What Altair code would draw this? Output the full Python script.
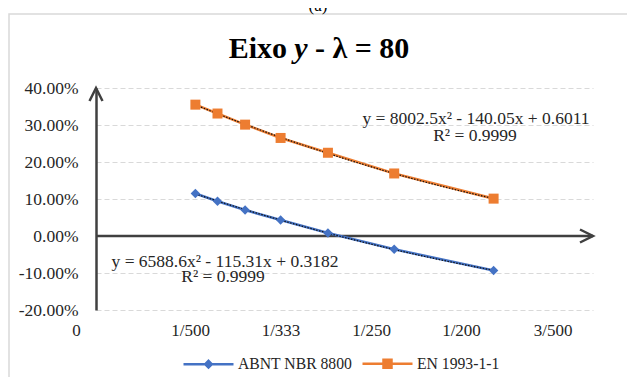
import altair as alt
import pandas as pd

# ---- data ----
denominators = [500, 450, 400, 350, 300, 250, 200]          # x = 1/den
abnt_values = [0.115, 0.094, 0.070, 0.043, 0.008, -0.036, -0.093]
en_values = [0.355, 0.331, 0.301, 0.265, 0.225, 0.169, 0.101]
series_names = ["ABNT NBR 8800", "EN 1993-1-1"]
series_colors = ["#4472C4", "#ED7D31"]

x_tick_values = [0.001, 0.001946, 0.002856, 0.003767, 0.004672, 0.005593]
x_tick_labels = ["0", "1/500", "1/333", "1/250", "1/200", "3/500"]
y_tick_values = [-0.2, -0.1, 0.0, 0.1, 0.2, 0.3, 0.4]

ann_text = ["y = 8002.5x² - 140.05x + 0.6011", "R² = 0.9999",
            "y = 6588.6x² - 115.31x + 0.3182", "R² = 0.9999"]
ann_x = [0.004823, 0.004813, 0.002298, 0.002278]
ann_y = [0.315, 0.269, -0.069, -0.1095]

title_parts = ["Eixo", "y", "- λ = 80"]

FONT = "Liberation Serif"
TXT = "#262626"
AXC = "#404040"

rows = []
for d, a, e in zip(denominators, abnt_values, en_values):
    rows.append({"x": 1.0 / d, "y": a, "series": series_names[0]})
    rows.append({"x": 1.0 / d, "y": e, "series": series_names[1]})
df = pd.DataFrame(rows)
ann = pd.DataFrame({"x": ann_x, "y": ann_y, "text": ann_text})
one = pd.DataFrame({"k": [0]})

# label expression for x ticks
expr = "''"
for v, lab in reversed(list(zip(x_tick_values, x_tick_labels))):
    expr = f"abs(datum.value - {v}) < 0.0001 ? '{lab}' : ({expr})"

xscale = alt.Scale(domain=[0.001, 0.006], nice=False, zero=False)
yscale = alt.Scale(domain=[-0.2, 0.4], nice=False, zero=False)

xaxis = alt.Axis(values=x_tick_values, labelExpr=expr, domain=False, ticks=False,
                 grid=False, labelFont=FONT, labelFontSize=17, labelColor=TXT,
                 labelPadding=12, labelFlush=False, labelOverlap=False, title=None,
                 labelOffset={"condition": {"test": "datum.value < 0.0015", "value": -20}, "value": 0})
yaxis = alt.Axis(values=y_tick_values, tickCount=7,
                 labelExpr="(datum.value < 0 ? '-' : '') + format(abs(datum.value), '.2%')",
                 domain=True, domainColor=AXC, domainWidth=2.5, ticks=False,
                 grid=True, gridColor="#d9d9d9", gridDash=[5, 3], gridWidth=1,
                 labelFont=FONT, labelFontSize=17.5, labelColor=TXT, labelPadding=18,
                 labelOverlap=False, labelFlush=False, title=None)

X = alt.X("x:Q", scale=xscale, axis=xaxis)
Y = alt.Y("y:Q", scale=yscale, axis=yaxis)

base = alt.Chart(df)

frame = alt.Chart(one).mark_rect(fillOpacity=0, stroke="#d9d9d9", strokeWidth=1.5).encode(
    x=alt.value(-87), x2=alt.value(700), y=alt.value(-74), y2=alt.value(400))

# title pieces (text, not data)
t1 = alt.Chart(one).mark_text(text=title_parts[0], font=FONT, fontSize=30, fontWeight="bold",
                              align="right", baseline="alphabetic", color="#000000").encode(
    x=alt.value(191), y=alt.value(-30))
t2 = alt.Chart(one).mark_text(text=title_parts[1], font=FONT, fontSize=30, fontWeight="bold",
                              fontStyle="italic", align="center", baseline="alphabetic",
                              color="#000000").encode(x=alt.value(205), y=alt.value(-30))
t3 = alt.Chart(one).mark_text(text=title_parts[2], font=FONT, fontSize=30, fontWeight="bold",
                              align="left", baseline="alphabetic", color="#000000").encode(
    x=alt.value(219), y=alt.value(-30))
ta = alt.Chart(one).mark_text(text="(a)", font=FONT, fontSize=17, align="center",
                              baseline="alphabetic", color="#000000").encode(
    x=alt.value(222), y=alt.value(-77))

hline = alt.Chart(one).mark_rule(color=AXC, strokeWidth=2.5).encode(
    y=alt.Y(datum=0, scale=yscale, axis=yaxis))

lines = base.mark_line(strokeWidth=2.6).encode(
    x=X, y=Y,
    color=alt.Color("series:N", scale=alt.Scale(domain=series_names, range=series_colors), legend=None))

trend = base.transform_regression("x", "y", method="poly", order=2, groupby=["series"]).mark_line(
    color="#111111", strokeDash=[1.5, 1.5], strokeWidth=1.2).encode(x=X, y=Y, detail="series:N")

diamonds = base.transform_filter(alt.datum.series == series_names[0]).mark_point(
    shape="diamond", filled=True, size=90, color=series_colors[0], opacity=1).encode(x=X, y=Y)
squares = base.transform_filter(alt.datum.series == series_names[1]).mark_point(
    shape="square", filled=True, size=100, color=series_colors[1], opacity=1).encode(x=X, y=Y)

up_arrow = alt.Chart(one).mark_point(shape="M-0.5,1L0,0L0.5,1", filled=False, stroke=AXC,
                                     strokeWidth=2.5, size=676, opacity=1).encode(
    x=alt.X(datum=0.001, scale=xscale, axis=xaxis), y=alt.Y(datum=0.4, scale=yscale, axis=yaxis))
right_arrow = alt.Chart(one).mark_point(shape="M-1,-0.5L0,0L-1,0.5", filled=False, stroke=AXC,
                                        strokeWidth=2.5, size=676, opacity=1).encode(
    x=alt.X(datum=0.006, scale=xscale, axis=xaxis), y=alt.Y(datum=0.0, scale=yscale, axis=yaxis))

texts = alt.Chart(ann).mark_text(font=FONT, fontSize=17.5, color=TXT, baseline="middle").encode(
    x=alt.X("x:Q", scale=xscale, axis=xaxis), y=alt.Y("y:Q", scale=yscale, axis=yaxis), text="text:N")

leg = alt.Legend(orient="none", legendX=86, legendY=249, direction="horizontal", title=None,
                 labelFont=FONT, labelFontSize=15.7, labelColor=TXT, symbolSize=2500,
                 symbolStrokeWidth=2.5, symbolOpacity=1, labelOffset=3, columnPadding=4)
legend_layer = base.mark_point(filled=False, size=1, strokeWidth=0.1).encode(
    x=X, y=Y,
    color=alt.Color("series:N", scale=alt.Scale(domain=series_names, range=series_colors), legend=leg),
    shape=alt.Shape("series:N", scale=alt.Scale(domain=series_names, range=[
        "M-1,0L1,0M0,-0.13L0.13,0L0,0.13L-0.13,0ZM0,-0.13L0,0.13",
        "M-1,0L1,0M-0.16,-0.16L0.16,-0.16L0.16,0.16L-0.16,0.16ZM-0.06,-0.06L0.06,-0.06L0.06,0.06L-0.06,0.06Z"]),
        legend=leg),
)

chart = alt.layer(frame, t1, t2, t3, ta, hline, legend_layer, lines, trend, diamonds, squares,
                  up_arrow, right_arrow, texts).properties(
    width=497, height=222,
    autosize=alt.AutoSizeParams(type="none"),
    padding={"left": 88, "top": 80, "right": 34, "bottom": 67},
    background="white",
).configure_view(strokeWidth=0)

chart.save("out.html", embed_options={"renderer": "svg", "actions": False})
